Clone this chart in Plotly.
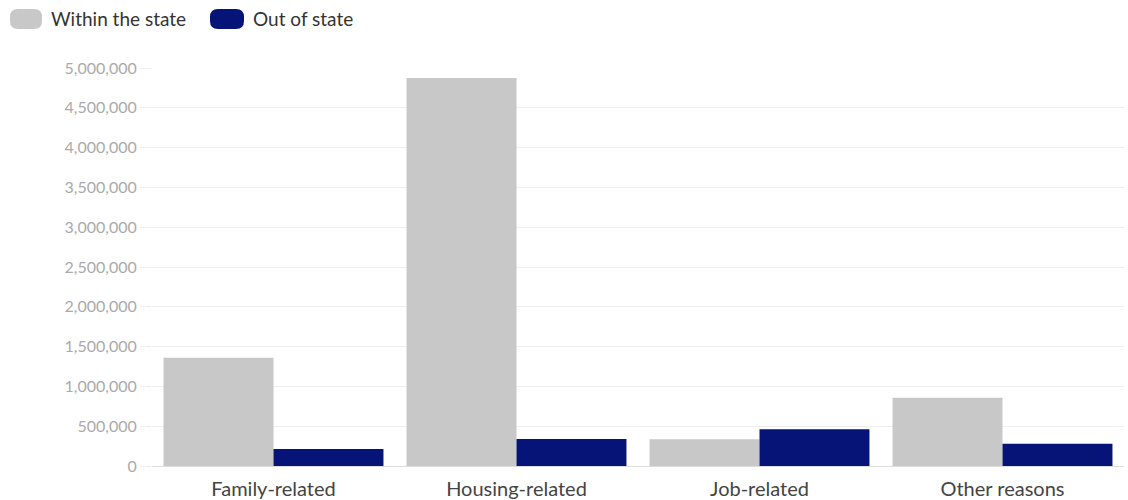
import plotly.graph_objects as go

categories = ["Family-related", "Housing-related", "Job-related", "Other reasons"]
within_state = [1360000, 4875000, 335000, 858000]
out_of_state = [213000, 339000, 461000, 280000]
y_ticks = [0, 500000, 1000000, 1500000, 2000000, 2500000, 3000000, 3500000, 4000000, 4500000, 5000000]
series_names = ["Within the state", "Out of state"]
series_colors = ["#c8c8c8", "#061478"]

font_family = "Lato, 'Source Sans Pro', 'Open Sans', sans-serif"

ML, MR, MT, MB = 152, 4, 68, 34
W, H = 1128, 500
PW, PH = W - ML - MR, H - MT - MB

fig = go.Figure()
for name, vals, col in zip(series_names, [within_state, out_of_state], series_colors):
    fig.add_trace(go.Bar(name=name, x=categories, y=vals, showlegend=False,
                         marker=dict(color=col, line=dict(width=0))))

def rounded(x0, x1, y0, y1, r):
    return (f"M {x0+r},{y0} L {x1-r},{y0} Q {x1},{y0} {x1},{y0+r} "
            f"L {x1},{y1-r} Q {x1},{y1} {x1-r},{y1} L {x0+r},{y1} "
            f"Q {x0},{y1} {x0},{y1-r} L {x0},{y0+r} Q {x0},{y0} {x0+r},{y0} Z")

# custom legend: swatch pixel positions (left, right) and text left
legend_pos = [(10, 42, 49), (210, 244, 251)]
for (sx0, sx1, tx), name, col in zip(legend_pos, series_names, series_colors):
    fig.add_shape(type="path", xref="paper", yref="paper",
                  xsizemode="pixel", ysizemode="pixel", xanchor=0, yanchor=1,
                  path=rounded(sx0 - ML, sx1 - ML, MT - 29, MT - 9, 8),
                  fillcolor=col, line=dict(width=0))
    fig.add_annotation(x=(tx - ML) / PW, y=1 + (MT - 19) / PH, xref="paper", yref="paper",
                       text=name, showarrow=False, xanchor="left", yanchor="middle",
                       font=dict(size=19, color="#333333", family=font_family))

fig.update_layout(
    width=W, height=H,
    margin=dict(l=ML, r=MR, t=MT, b=MB, autoexpand=False),
    barmode="group", bargap=0.095, bargroupgap=0,
    paper_bgcolor="white", plot_bgcolor="white",
    font=dict(family=font_family),
    showlegend=False,
    xaxis=dict(showgrid=False, tickfont=dict(size=20, color="#444444"),
               ticklabelstandoff=9, showline=False, automargin=False),
    yaxis=dict(range=[0, 5000000], tickvals=y_ticks, tickformat=",d",
               gridcolor="#eeeeee", gridwidth=1, zeroline=True,
               zerolinecolor="#dddddd", zerolinewidth=1, automargin=False,
               ticks="outside", ticklen=11, tickcolor="#eeeeee",
               tickfont=dict(size=16, color="#aaaaaa")),
)

fig.write_html("out.html")
